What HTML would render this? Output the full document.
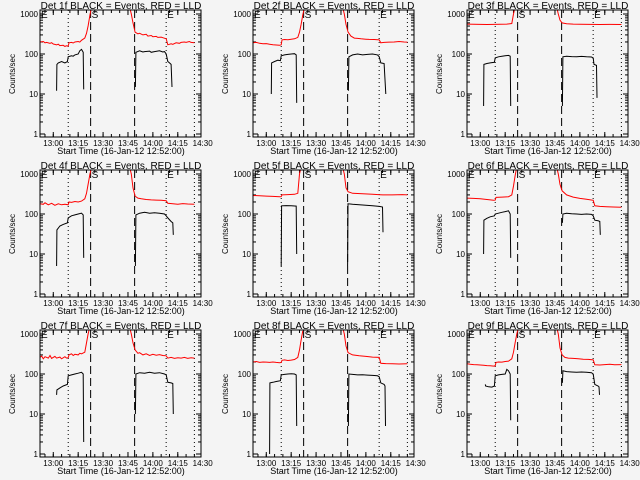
<!DOCTYPE html>
<html><head><meta charset="utf-8"><style>
html,body{margin:0;padding:0;background:#f4f4f4;}
svg{display:block;font-family:"Liberation Sans",sans-serif;}
</style></head><body>
<svg id="c" width="640" height="480" viewBox="0 0 640 480">
<rect width="640" height="480" fill="#f4f4f4"/>
</svg>
<script>
const detNames=["1f","2f","3f","4f","5f","6f","7f","8f","9f"];
const xTickLabels=["13:00","13:15","13:30","13:45","14:00","14:15","14:30"];
const xTickMinutes=[8,23,38,53,68,83,98];
const yTickValues=[1,10,100,1000];
const yTickLabels=["1","10","100","1000"];
const dottedTimes=[17,76,93];
const dashedTimes=[30.5,57];
const red1=[[0,200],[2,205],[3,190],[4,195],[6,185],[7,192],[8,178],[10,170],[11,176],[12,162],[14,165],[15,155],[16,160],[17,158],[17.5,190],[19,195],[20,188],[21,200],[23,205],[24,198],[25,220],[27,250],[28,330],[29,500],[30,900],[31,1500]];
const red1b=[[54,1500],[55,1000],[56,600],[57.3,350],[59,320],[60,330],[62,300],[64,310],[65,280],[67,290],[68,270],[70,275],[71,260],[73,265],[74,255],[76,240],[77,170],[79,180],[80,175],[82,190],[84,185],[85,195],[87,200],[88,195],[90,205],[91,195],[93,190]];
const blk1=[[[10,12],[10.2,55],[11,60],[13,65],[15,60],[16.5,65],[17,85],[19,90],[20,88],[21,95],[23,100],[24,120],[25,130],[26,110],[26.3,13]],[[57.5,15],[57.8,110],[60,120],[62,112],[63,115],[66,118],[67,110],[69,115],[72,120],[74,112],[75,115],[76,100],[77,65],[78,60],[79,55],[79.5,15]]];
const red2=[[0,190],[2,195],[4,185],[6,180],[8,182],[10,175],[12,170],[14,168],[16,165],[17,170],[17.5,225],[19,230],[21,228],[23,235],[25,240],[27,260],[28,350],[29,550],[30,950],[31,1500]];
const red2b=[[54,1500],[55,1000],[56,550],[57.3,350],[59,280],[61,250],[63,245],[65,240],[68,235],[70,232],[73,230],[76,225],[77,190],[79,195],[82,198],[85,200],[88,205],[91,200],[93,198]];
const blk2=[[[11,10],[11.2,60],[13,65],[15,70],[16.5,68],[17,90],[19,95],[21,98],[23,100],[25,102],[26,95],[26.3,6]],[[57.5,12],[57.8,85],[60,95],[63,100],[66,95],[69,98],[72,100],[75,95],[76,85],[77,60],[79,58],[80,10]]];
const red3=[[0,560],[4,555],[8,550],[12,545],[16,550],[20,555],[24,560],[27,580],[28,1000],[29,1500]];
const red3b=[[54,1500],[55,1000],[56,700],[57.3,600],[60,570],[64,560],[68,555],[74,550],[80,545],[86,550],[93,545]];
const blk3=[[[10,5],[10.2,55],[12,58],[14,60],[16.5,62],[17,80],[19,85],[21,88],[23,90],[25,92],[26,88],[26.3,5]],[[57.5,5],[57.8,85],[60,88],[63,86],[66,85],[69,87],[72,85],[75,84],[76,80],[76.5,55],[78,52],[78.3,8]]];
const red4=[[0,180],[2,175],[3,190],[5,170],[7,185],[9,165],[11,180],[13,170],[15,175],[17,170],[17.5,200],[19,195],[21,205],[23,200],[25,210],[27,240],[28,330],[29,550],[30,950],[31,1500]];
const red4b=[[54,1500],[55,1000],[56,450],[57.3,280],[59,250],[61,240],[64,230],[67,225],[70,222],[73,220],[76,215],[77,185],[80,180],[83,175],[86,182],[89,178],[93,175]];
const blk4=[[[10,5],[10.2,40],[12,50],[14,55],[16.5,60],[17,80],[19,90],[21,95],[23,100],[25,105],[26,95],[26.3,8]],[[57.5,5],[57.8,95],[60,105],[63,110],[66,105],[69,108],[72,105],[75,100],[76,90],[77,80],[79,65],[80,60],[80.3,30]]];
const red5=[[0,290],[4,285],[8,280],[12,275],[16,270],[17,272],[17.5,300],[21,305],[25,310],[27,330],[28,1000],[29,1500]];
const red5b=[[54,1500],[55,1000],[56,450],[57.3,360],[60,330],[66,320],[72,310],[78,300],[84,300],[90,305],[93,300]];
const blk5=[[[17,5],[17.2,160],[20,162],[23,160],[26,158],[26.3,10]],[[57,5],[57.2,180],[60,175],[64,170],[68,165],[72,160],[76,155],[78,150],[78.3,35]]];
const red6=[[0,250],[4,245],[8,240],[12,230],[16,220],[17,222],[17.5,260],[21,265],[25,270],[27,300],[28,500],[29,900],[30,1500]];
const red6b=[[54,1500],[55,1000],[56,550],[57.3,380],[60,300],[64,265],[68,245],[72,235],[76,220],[77,160],[80,155],[84,152],[88,150],[93,148]];
const blk6=[[[10,10],[10.2,70],[12,78],[14,85],[16.5,90],[17,100],[19,105],[21,110],[23,115],[25,120],[26,100],[26.3,8]],[[57.5,60],[57.8,100],[60,105],[63,102],[66,100],[69,98],[72,100],[75,98],[76,90],[77,70],[79,68],[80,65],[80.3,30]]];
const red7=[[0,260],[1,280],[2,240],[3,270],[5,250],[6,290],[7,245],[9,275],[10,250],[12,265],[13,240],[15,270],[16,250],[17,255],[17.5,300],[19,320],[20,290],[21,310],[23,300],[24,330],[25,320],[27,350],[28,600],[29,1000],[30,1500]];
const red7b=[[54,1500],[55,1000],[56,600],[57.3,400],[59,330],[60,340],[62,300],[64,320],[66,290],[68,310],[70,295],[72,305],[74,290],[76,285],[77,250],[79,260],[81,245],[83,255],[85,250],[87,260],[89,245],[91,255],[93,250]];
const blk7=[[[10,30],[10.2,40],[12,45],[14,50],[16.5,55],[17,90],[19,95],[21,100],[23,105],[25,110],[26,100],[26.3,2]],[[57.5,10],[57.8,100],[60,108],[63,105],[66,110],[69,105],[72,108],[75,100],[76,95],[77,62],[79,60],[80,58],[80.3,10]]];
const red8=[[0,200],[2,205],[4,195],[6,200],[8,198],[10,195],[12,200],[14,195],[16,192],[17,195],[17.5,220],[19,225],[21,218],[23,222],[25,230],[27,260],[28,400],[29,700],[30,1200]];
const red8b=[[54,1500],[55,1000],[56,500],[57.3,340],[60,300],[64,285],[68,275],[72,265],[76,260],[77,185],[80,182],[84,180],[88,178],[93,180]];
const blk8=[[[10,1],[10.2,60],[12,62],[14,65],[16.5,68],[17,95],[19,98],[21,100],[23,102],[25,100],[26,95],[26.3,5]],[[57.5,5],[57.8,100],[60,98],[63,95],[66,96],[69,94],[72,92],[75,90],[76,85],[77,60],[79,55],[79.5,50],[79.8,5]]];
const red9=[[0,180],[2,175],[4,172],[6,170],[8,168],[10,165],[12,162],[14,160],[16,158],[17,160],[17.5,195],[19,200],[21,198],[23,205],[25,210],[27,240],[28,350],[29,600],[30,1000],[31,1500]];
const red9b=[[54,1500],[55,1000],[56,450],[57.3,300],[59,260],[61,250],[64,245],[67,240],[70,235],[73,232],[76,225],[77,170],[80,168],[83,172],[86,175],[89,170],[93,172]];
const blk9=[[[11,55],[11.2,50],[13,48],[15,47],[16.5,50],[17,90],[19,95],[21,98],[23,100],[24,130],[25,120],[26,100],[26.3,7]],[[57.5,60],[57.8,120],[60,115],[63,112],[66,110],[69,112],[72,110],[75,108],[76,100],[77,55],[79,50],[79.5,48],[79.8,30]]];
const redSeries=[[red1,red1b],[red2,red2b],[red3,red3b],[red4,red4b],[red5,red5b],[red6,red6b],[red7,red7b],[red8,red8b],[red9,red9b]];
const blackSeries=[blk1,blk2,blk3,blk4,blk5,blk6,blk7,blk8,blk9];

const NS="http://www.w3.org/2000/svg";
const svg=document.getElementById("c");
const colX=[0,213,427], rowY=[0,160,320];
const BX0=40,BX1=201,BY0=10,BY1=137;
function xs(t){return BX0+t*1.66;}
function ys(v){return 14+(3-Math.log10(v))*40;}
function mk(tag,attrs,parent){const e=document.createElementNS(NS,tag);for(const k in attrs)e.setAttribute(k,attrs[k]);parent.appendChild(e);return e;}
function pathOf(pts){return pts.map((p,i)=>(i?"L":"M")+xs(p[0]).toFixed(1)+" "+ys(p[1]).toFixed(1)).join(" ");}

for(let i=0;i<9;i++){
  const ox=colX[i%3], oy=rowY[Math.floor(i/3)];
  const g=mk("g",{transform:`translate(${ox},${oy})`},svg);
  
  
  const cp=mk("clipPath",{id:"cp"+i},g);
  mk("rect",{x:BX0,y:BY0,width:BX1-BX0,height:BY1-BY0},cp);
  const title=mk("text",{x:121,y:9,"text-anchor":"middle","font-size":"10"},g);
  title.textContent="Det "+detNames[i]+" BLACK = Events, RED = LLD";
  
  
  const yl=mk("text",{x:0,y:0,"text-anchor":"middle","font-size":"8",transform:"translate(15,74) rotate(-90)"},g);
  yl.textContent="Counts/sec";
  
  
  const xl=mk("text",{x:121,y:154,"text-anchor":"middle","font-size":"9"},g);
  xl.textContent="Start Time (16-Jan-12 12:52:00)";
  
  
  yTickValues.forEach((v,k)=>{
    const y=ys(v);
    mk("line",{x1:BX0,x2:BX0+5,y1:y,y2:y,stroke:"#000"},g);
    mk("line",{x1:BX1-5,x2:BX1,y1:y,y2:y,stroke:"#000"},g);
    const t=mk("text",{x:BX0-2,y:y+3,"text-anchor":"end","font-size":"8"},g);
    t.textContent=yTickLabels[k];
    
    
    if(v<1000)for(let m=2;m<10;m++){const yy=ys(v*m);
      mk("line",{x1:BX0,x2:BX0+3,y1:yy,y2:yy,stroke:"#000"},g);
      mk("line",{x1:BX1-3,x2:BX1,y1:yy,y2:yy,stroke:"#000"},g);}
  });
  xTickMinutes.forEach((m,k)=>{
    const x=xs(m);
    if(x<=BX1+0.5){mk("line",{x1:x,x2:x,y1:BY1,y2:BY1-5,stroke:"#000"},g);
    mk("line",{x1:x,x2:x,y1:BY0,y2:BY0+5,stroke:"#000"},g);}
    const t=mk("text",{x:x,y:146,"text-anchor":"middle","font-size":"8"},g);
    t.textContent=xTickLabels[k];
    
    
  });
  for(let m=3;m<97;m+=5){const x=xs(m);
    mk("line",{x1:x,x2:x,y1:BY1,y2:BY1-3,stroke:"#000"},g);
    mk("line",{x1:x,x2:x,y1:BY0,y2:BY0+3,stroke:"#000"},g);}
  dottedTimes.forEach(t=>{const x=xs(t);mk("line",{x1:x,x2:x,y1:BY0,y2:BY1,stroke:"#000","stroke-dasharray":"1,3"},g);});
  dashedTimes.forEach(t=>{const x=xs(t);mk("line",{x1:x,x2:x,y1:BY0,y2:BY1,stroke:"#000","stroke-dasharray":"8,4"},g);});
  [["E",0],["S",30.5],["E",76]].forEach(a=>{const t=mk("text",{x:xs(a[1])+1,y:BY0+8,"font-size":"10"},g);t.textContent=a[0];
    
    });
  const sg=mk("g",{"clip-path":`url(#cp${i})`},g);
  redSeries[i].forEach(seg=>{const p=mk("path",{d:pathOf(seg),fill:"none",stroke:"#ff0000","stroke-width":"1"},sg);
    
    });
  blackSeries[i].forEach(seg=>{const p=mk("path",{d:pathOf(seg),fill:"none",stroke:"#000","stroke-width":"1"},sg);
    
    });
  const box=mk("rect",{x:BX0,y:BY0,width:BX1-BX0,height:BY1-BY0,fill:"none",stroke:"#000"},g);
  
  
}
</script>
</body></html>
